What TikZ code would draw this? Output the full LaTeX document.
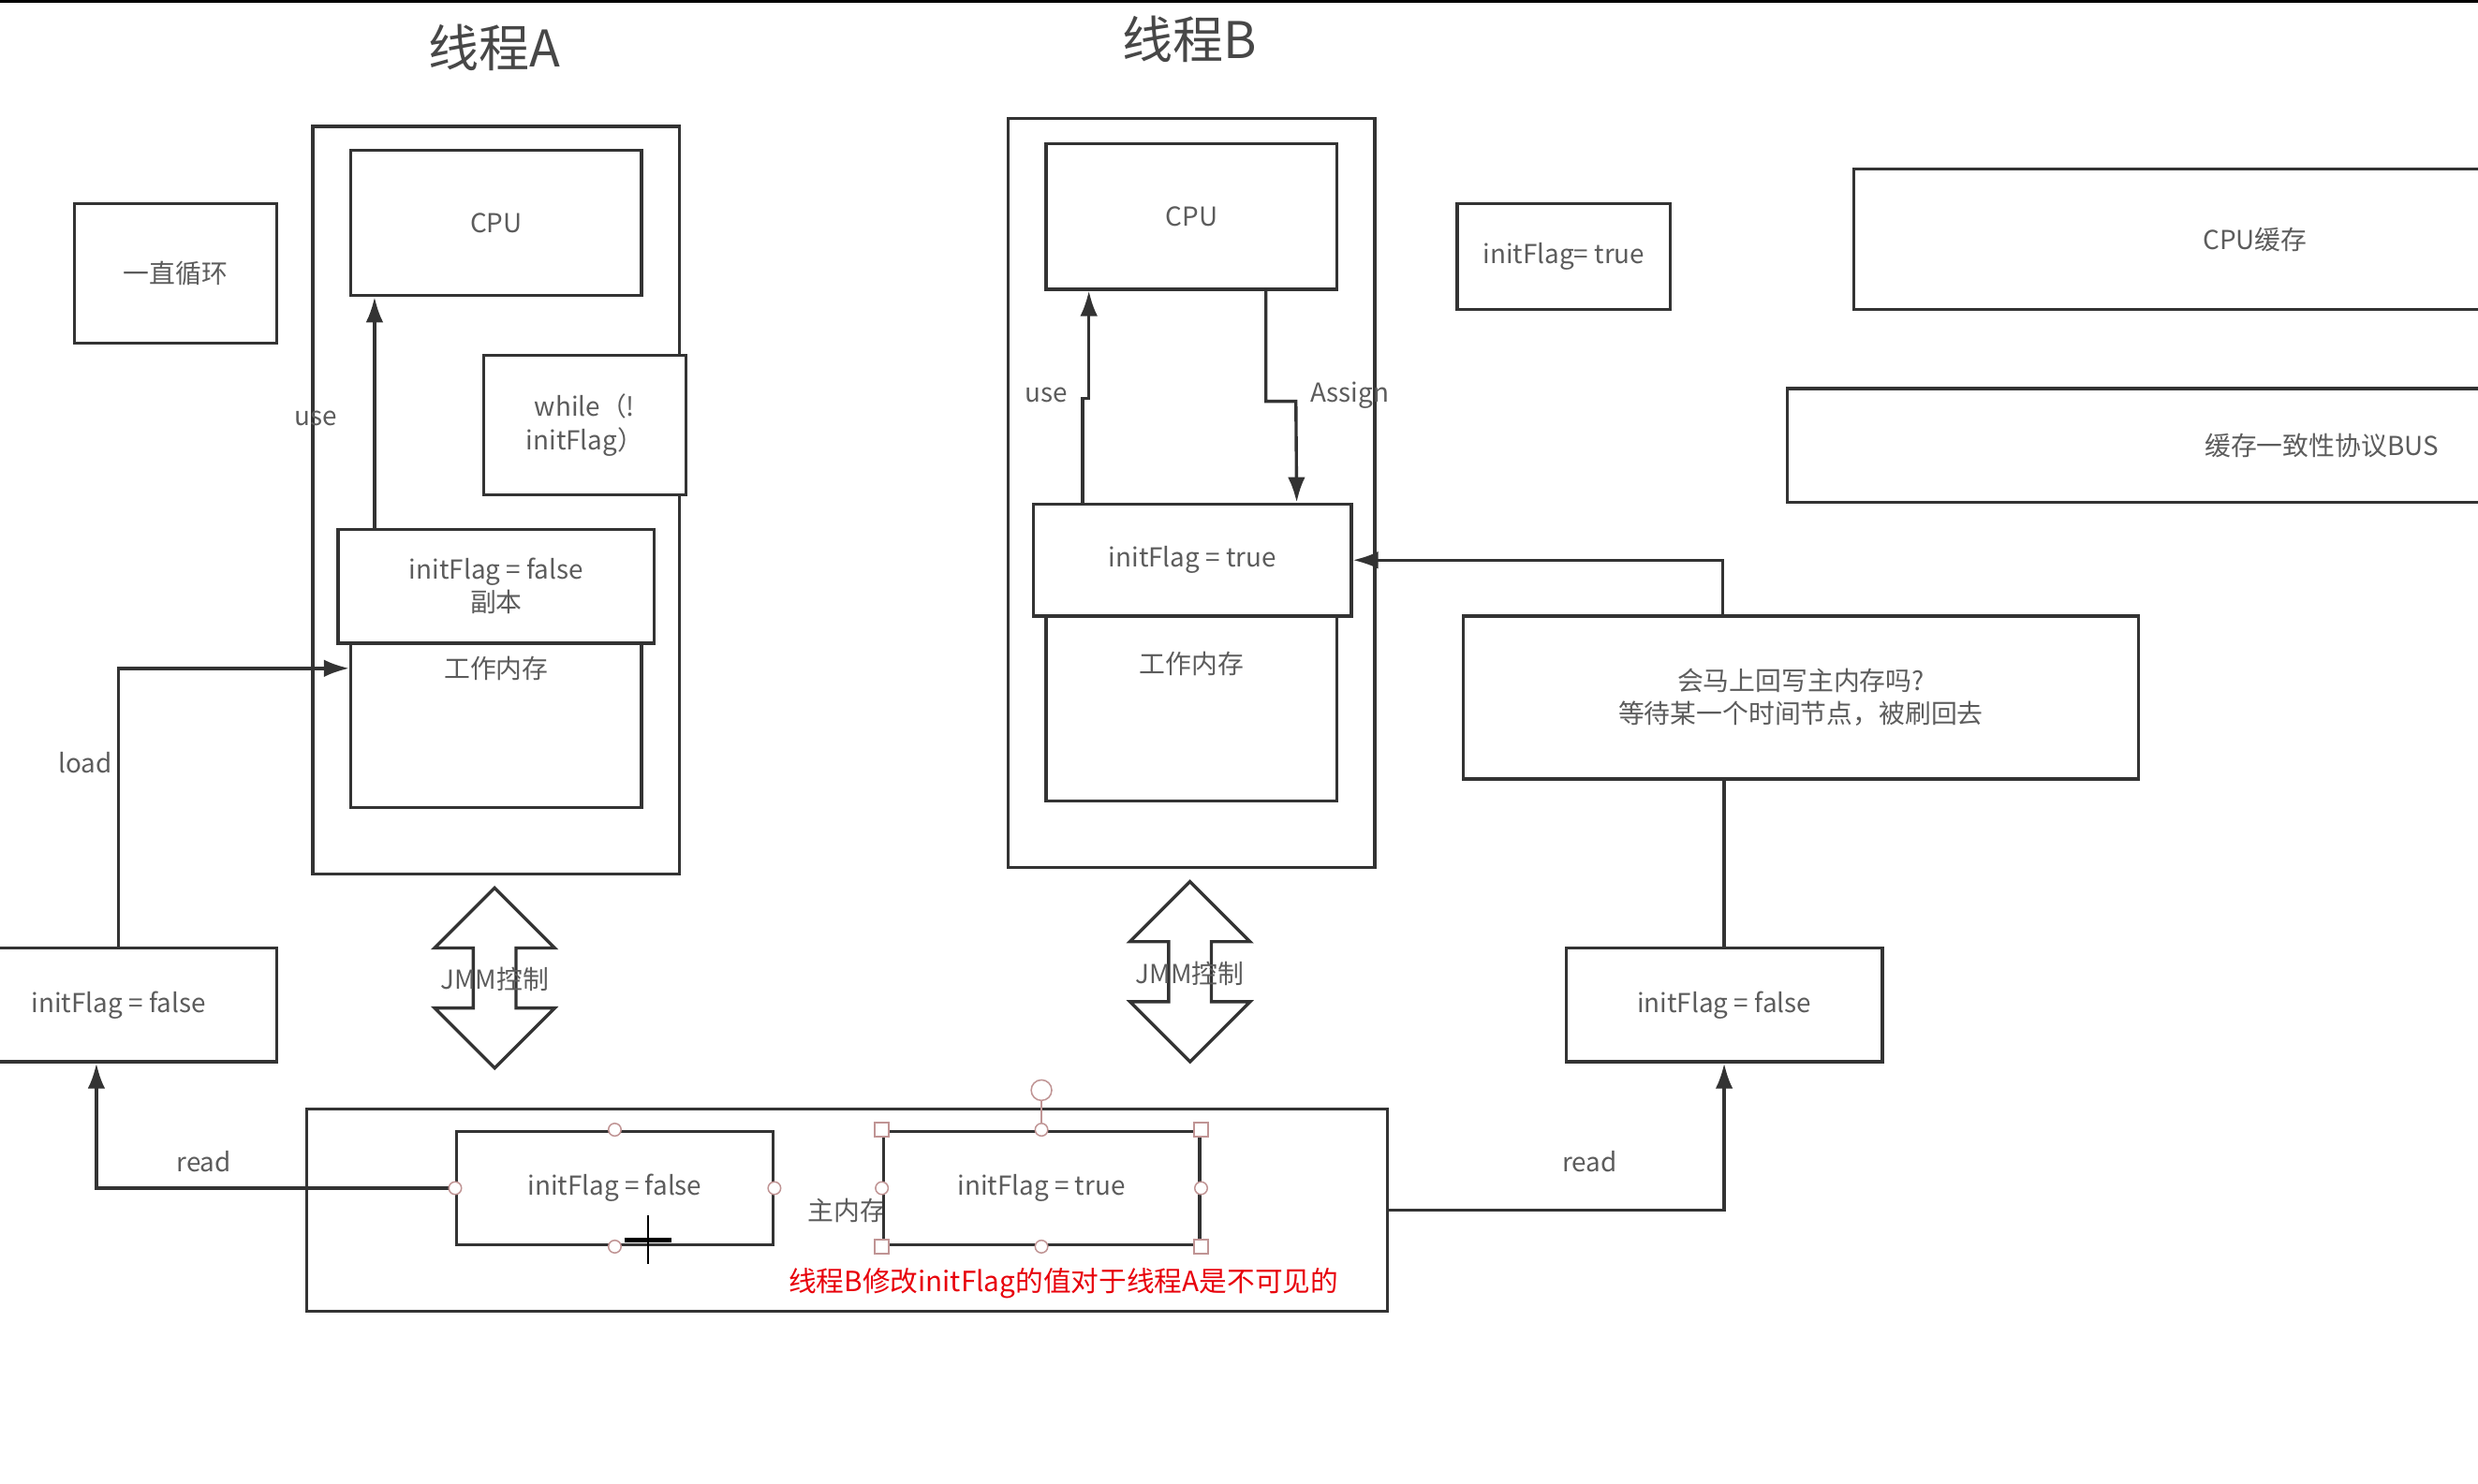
\documentclass[tikz,border=0pt]{standalone}
\usepackage{fontspec}
\setmainfont{Noto Sans CJK SC}
\usetikzlibrary{arrows.meta}
\definecolor{linec}{HTML}{333333}
\definecolor{txtc}{HTML}{5C5C5C}
\definecolor{titc}{HTML}{474747}
\definecolor{hdlc}{HTML}{C09494}
\definecolor{redc}{HTML}{E8000B}

\begin{document}
\begin{tikzpicture}[x=1pt,y=-1pt,
  >={Latex[length=16pt,width=11pt]},
  box/.style={draw=linec, line width=2pt, rectangle, fill=white, inner sep=0pt, align=center, text=txtc, font=\fontsize{16.5}{21}\selectfont},
  lbl/.style={text=txtc, inner sep=0pt, font=\fontsize{16.5}{21}\selectfont},
  title/.style={text=titc, inner sep=0pt, font=\fontsize{32}{36}\selectfont},
  link/.style={draw=linec, line width=2pt},
  hdl/.style={draw=hdlc, fill=white, line width=0.9pt, circle, inner sep=0pt, minimum size=8pt},
  hsq/.style={draw=hdlc, fill=white, line width=0.9pt, rectangle, inner sep=0pt, minimum size=9pt}]

\path[use as bounding box, fill=white] (0,0) rectangle (1568,939);
\draw[black, line width=2pt] (0,1) -- (1568,1);

\node[title] (titleA) at (313,30) {线程A};
\node[title] (titleB) at (753,25) {线程B};

\node[box, minimum width=128pt, minimum height=88pt] (loop) at (111,173) {一直循环};

% thread A
\node[box, minimum width=232pt, minimum height=473pt] (outA) at (314,316.5) {};
\node[box, minimum width=184pt, minimum height=92pt] (cpuA) at (314,141) {CPU};
\node[box, minimum width=128pt, minimum height=88pt] (whileA) at (370,269) {while（!\\initFlag）};
\node[box, minimum width=184pt, minimum height=104pt] (wmA) at (314,459) {};
\node[lbl] (wmAl) at (314,423) {工作内存};
\node[box, minimum width=200pt, minimum height=72pt] (copyA) at (314,371) {initFlag = false\\副本};

% thread B
\node[box, minimum width=232pt, minimum height=474pt] (outB) at (754,312) {};
\node[box, minimum width=184pt, minimum height=92pt] (cpuB) at (754,137) {CPU};
\node[box, minimum width=184pt, minimum height=117pt] (wmB) at (754,448.5) {};
\node[lbl] (wmBl) at (754,420) {工作内存};
\node[box, minimum width=201pt, minimum height=71pt] (trueB) at (754.5,354.5) {initFlag = true};

% right side
\node[box, minimum width=135pt, minimum height=67pt] (flagT) at (989.5,162.5) {initFlag= true};
\node[box, minimum width=508pt, minimum height=89pt] (cache) at (1427,151.5) {CPU缓存};
\node[box, minimum width=676pt, minimum height=72pt] (bus) at (1469,282) {缓存一致性协议BUS};
\node[box, minimum width=427pt, minimum height=103pt] (ask) at (1139.5,441.5) {会马上回写主内存吗?\\等待某一个时间节点，被刷回去};
\node[box, minimum width=200pt, minimum height=72pt] (flagR) at (1091,636) {initFlag = false};
\node[box, minimum width=200pt, minimum height=72pt] (flagL) at (75,636) {initFlag = false};

% main memory
\node[box, minimum width=684pt, minimum height=128pt] (mainMem) at (536,766) {主内存};
\node[box, minimum width=200pt, minimum height=72pt] (mFalse) at (389,752) {initFlag = false};
\node[box, minimum width=200pt, minimum height=72pt] (mTrue) at (659,752) {initFlag = true};
\node[text=redc, inner sep=0pt, font=\fontsize{17.6}{21}\selectfont] (note) at (673,812) {线程B修改initFlag的值对于线程A是不可见的};

% JMM
\foreach \cx/\ty in {313/562, 753/558}
  \draw[link, fill=white] (\cx,\ty) -- (\cx+38,\ty+38) -- (\cx+13.5,\ty+38) -- (\cx+13.5,\ty+76)
    -- (\cx+38,\ty+76) -- (\cx,\ty+114) -- (\cx-38,\ty+76) -- (\cx-13.5,\ty+76)
    -- (\cx-13.5,\ty+38) -- (\cx-38,\ty+38) -- cycle;
\node[lbl] (jmmA) at (313,620) {JMM控制};
\node[lbl] (jmmB) at (753,616) {JMM控制};

\draw[link,->] ([xshift=-77pt]copyA.north) -- ([xshift=-77pt]cpuA.south);
\node[lbl] (useA) at (200,265) {use};
\draw[link,->] (flagL.north) |- ([yshift=36pt]wmA.west);
\node[lbl] (loadL) at (54,483) {load};
\draw[link,->] (mFalse.west) -| ([xshift=-14pt]flagL.south);
\node[lbl] (readL) at (129,735) {read};

\draw[link,->] ([xshift=-69.5pt]trueB.north) -- ++(0,-66) -- ++(4,0) -- ([xshift=-65pt]cpuB.south);
\node[lbl] (useB) at (662,250) {use};
\draw[link,->] ([xshift=47pt]cpuB.south) -- ++(0,70) -- ++(19,0) -- ([xshift=66pt]trueB.north);
\node[lbl] (assign) at (854,250) {Assign};

\draw[link,->] ([xshift=-49.5pt]ask.north) |- (trueB.east);
\draw[link] (flagR.north) -- (flagR.north |- ask.south);
\draw[link,->] (mainMem.east) -| (flagR.south);
\node[lbl] (readR) at (1006,735) {read};

% handles
\foreach \a in {north,south,east,west}
  \node[hdl] (hf-\a) at (mFalse.\a) {};
\draw[hdlc, line width=0.9pt] (mTrue.north) -- (659,690);
\node[hdl, minimum size=13pt] (rot) at (659,690) {};
\foreach \a in {north,south,east,west}
  \node[hdl] (ht-\a) at (mTrue.\a) {};
\foreach \a in {north east,north west,south east,south west}
  \node[hsq] (hs-\a) at (mTrue.\a) {};

% cursor
\draw[black, line width=1.6pt] (410,769) -- (410,800);
\draw[black, line width=3pt] (395,785) -- (425,785);
\end{tikzpicture}
\end{document}
